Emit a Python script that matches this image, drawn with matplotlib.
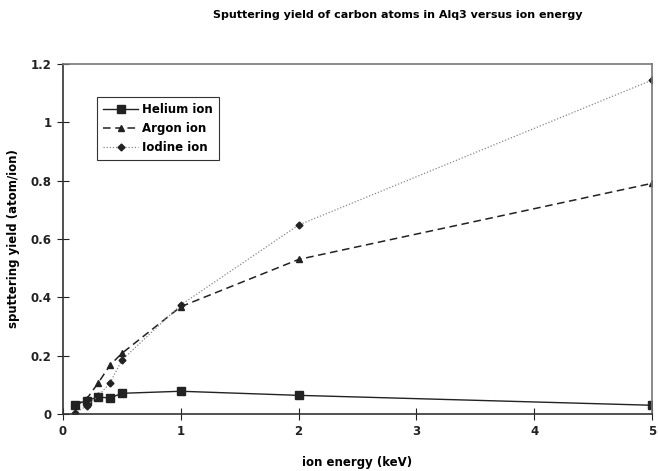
import matplotlib.pyplot as plt

energy = [0.1, 0.2, 0.3, 0.4, 0.5, 1, 2, 5]
helium = [0.031, 0.046, 0.058, 0.055, 0.071, 0.078, 0.064, 0.030]
argon = [0.03, 0.051, 0.107, 0.168, 0.208, 0.368, 0.530, 0.791]
iodine = [0.002, 0.028, 0.062, 0.107, 0.185, 0.374, 0.648, 1.145]

xticks = [0, 1, 2, 3, 4, 5]
yticks = [0, 0.2, 0.4, 0.6, 0.8, 1.0, 1.2]
ylabels = ["0", "0.2", "0.4", "0.6", "0.8", "1", "1.2"]

fig = plt.figure(figsize=(6.58, 4.71), dpi=100)
ax = fig.add_axes([0.0957, 0.121, 0.8952, 0.743])

ax.plot(energy, helium, color='#222222', lw=1, marker='s', ms=5.5,
        label='Helium ion')
ax.plot(energy, argon, color='#222222', lw=1.1, ls=(0, (5, 3)), marker='^',
        ms=5, label='Argon ion')
ax.plot(energy, iodine, color='#888888', lw=0.9, ls=(0, (1, 1.5)), marker='D',
        ms=3.5, mfc='#222222', mec='#222222', label='Iodine ion')

ax.set_xlim(0, 5)
ax.set_ylim(0, 1.2)
ax.set_xticks(xticks)
ax.set_yticks(yticks)
ax.set_yticklabels(ylabels)
ax.tick_params(direction='inout', length=8, width=0.8, colors='#222222',
               labelsize=8.5, pad=4)
for lab in ax.get_xticklabels() + ax.get_yticklabels():
    lab.set_fontweight('bold')

for side in ['left', 'bottom']:
    ax.spines[side].set_color('#333333')
    ax.spines[side].set_linewidth(1.2)
for side in ['top', 'right']:
    ax.spines[side].set_color('#777777')
    ax.spines[side].set_linewidth(1.2)

ax.set_xlabel('ion energy (keV)', fontsize=8.5, fontweight='bold', labelpad=13)
ax.set_ylabel('sputtering yield (atom/ion)', fontsize=8.5, fontweight='bold',
              labelpad=8)
fig.text(0.605, 0.968, 'Sputtering yield of carbon atoms in Alq3 versus ion energy',
         ha='center', va='center', fontsize=8, fontweight='bold')

leg = ax.legend(loc='upper left', bbox_to_anchor=(0.048, 0.922), fancybox=False,
                edgecolor='#333333', framealpha=1, handlelength=3,
                borderpad=0.5, labelspacing=0.5, handletextpad=0.3,
                prop={'size': 8.5, 'weight': 'bold'})
leg.get_frame().set_linewidth(0.8)

fig.savefig('out.png', dpi=100)
